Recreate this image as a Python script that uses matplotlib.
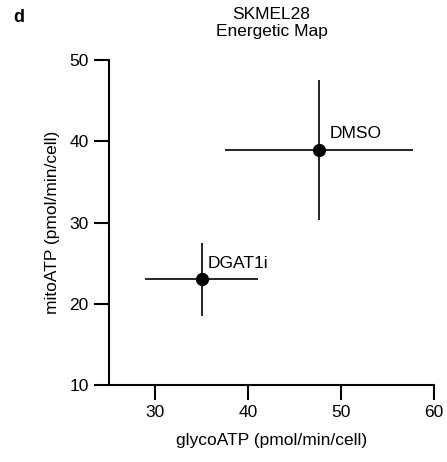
import numpy as np
import matplotlib
matplotlib.use('Agg')
import matplotlib.pyplot as plt

plt.rcParams['font.family'] = ['Liberation Sans', 'DejaVu Sans']

# mean +/- SD for each treatment
conditions = ['DMSO', 'DGAT1i']
glyco_atp = [47.6, 35.0]
glyco_err = [10.1, 6.1]
mito_atp = [38.9, 23.0]
mito_err = [8.6, 4.45]
label_offsets = [(8, 7), (4, 6)]

fig = plt.figure(figsize=(4.47, 4.62), dpi=100)
ax = fig.add_axes([0.2438, 0.1667, 0.7271, 0.7033])

for name, x, xe, y, ye, off in zip(conditions, glyco_atp, glyco_err, mito_atp, mito_err, label_offsets):
    ax.errorbar(x, y, xerr=xe, yerr=ye, fmt='o', color='black', ms=8.5,
                elinewidth=1.2, capsize=0, clip_on=False, zorder=3)
    ax.annotate(name, (x, y), xytext=off, textcoords='offset points',
                fontsize=12.5, ha='left', va='bottom')

ax.set_xlim(25, 60)
ax.set_ylim(10, 50)
ax.set_xticks([30, 40, 50, 60])
ax.set_yticks([10, 20, 30, 40, 50])
ax.spines['top'].set_visible(False)
ax.spines['right'].set_visible(False)
for s in ['left', 'bottom']:
    ax.spines[s].set_linewidth(1.5)
ax.tick_params(width=1.5, length=11, labelsize=12.5, pad=3.5)

ax.set_xlabel('glycoATP (pmol/min/cell)', fontsize=12.5, labelpad=9)
ax.set_ylabel('mitoATP (pmol/min/cell)', fontsize=12.5, labelpad=7)
ax.set_title('SKMEL28\nEnergetic Map', fontsize=12.5, pad=17, linespacing=1.2)
fig.text(0.03, 0.98, 'd', fontsize=13, fontweight='bold', va='top')

fig.savefig('out.png', dpi=100)
